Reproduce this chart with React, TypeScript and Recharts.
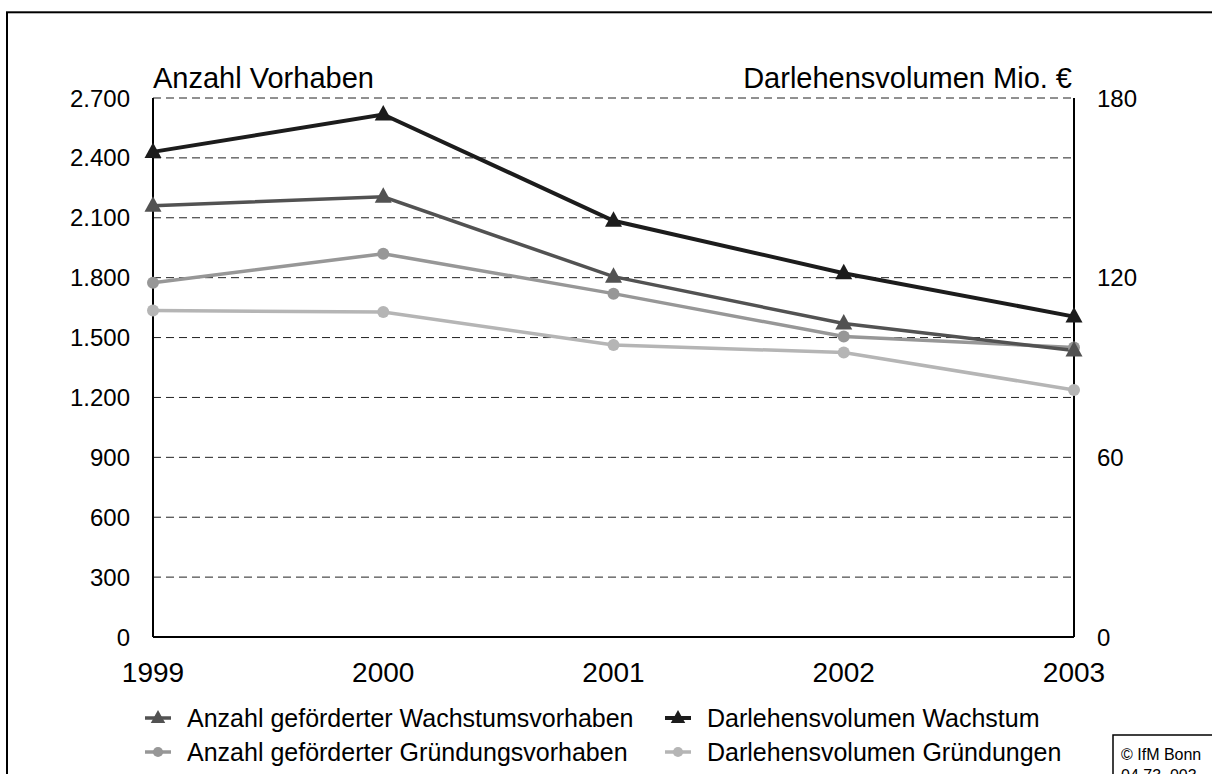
import React from "react";
import { CartesianGrid, Line, LineChart, XAxis, YAxis } from "recharts";

const YEARS = ["1999", "2000", "2001", "2002", "2003"];
const ANZAHL_WACHSTUM = [2160, 2205, 1805, 1570, 1435];
const ANZAHL_GRUENDUNG = [1775, 1920, 1720, 1505, 1450];
const VOLUMEN_WACHSTUM = [162, 174.5, 139, 121.5, 107];
const VOLUMEN_GRUENDUNG = [109, 108.5, 97.5, 95, 82.5];

const LEFT_TICKS = [0, 300, 600, 900, 1200, 1500, 1800, 2100, 2400, 2700];
const RIGHT_TICKS = [0, 60, 120, 180];

const FONT = '"Liberation Sans", Arial, Helvetica, sans-serif';

type Shape = "triangle" | "circle";

type SeriesDef = {
  key: string;
  name: string;
  color: string;
  width: number;
  shape: Shape;
  axis: "left" | "right";
};

// drawing order: last one ends up on top
const SERIES: SeriesDef[] = [
  { key: "volG", name: "Darlehensvolumen Gründungen", color: "#b5b5b5", width: 3.5, shape: "circle", axis: "right" },
  { key: "anzG", name: "Anzahl geförderter Gründungsvorhaben", color: "#979797", width: 3.5, shape: "circle", axis: "left" },
  { key: "anzW", name: "Anzahl geförderter Wachstumsvorhaben", color: "#525252", width: 3.5, shape: "triangle", axis: "left" },
  { key: "volW", name: "Darlehensvolumen Wachstum", color: "#1c1c1c", width: 4, shape: "triangle", axis: "right" },
];

// legend grid, row by row
const LEGEND_ROWS = [
  ["anzW", "volW"],
  ["anzG", "volG"],
];

const data = YEARS.map((year, i) => ({
  year,
  anzW: ANZAHL_WACHSTUM[i],
  anzG: ANZAHL_GRUENDUNG[i],
  volW: VOLUMEN_WACHSTUM[i],
  volG: VOLUMEN_GRUENDUNG[i],
}));

function formatThousands(value: number) {
  return String(value).replace(/\B(?=(\d{3})+(?!\d))/g, ".");
}

function Marker({ shape, cx, cy, color, size = 1 }: { shape: Shape; cx: number; cy: number; color: string; size?: number }) {
  if (shape === "triangle") {
    const h = 8.5 * size;
    return (
      <path
        d={`M${cx},${cy - 9.5 * size} L${cx - h},${cy + 6 * size} L${cx + h},${cy + 6 * size} Z`}
        fill={color}
      />
    );
  }
  return <circle cx={cx} cy={cy} r={6 * size} fill={color} />;
}

function makeDot(series: SeriesDef) {
  return (props: any) => {
    const { cx, cy, index } = props;
    if (cx == null || cy == null) return <g key={`${series.key}-${index}`} />;
    return (
      <g key={`${series.key}-${index}`}>
        <Marker shape={series.shape} cx={cx} cy={cy} color={series.color} />
      </g>
    );
  };
}

export default function App() {
  const legendCols = [158, 678];
  const legendBaselines = [727, 761];

  return (
    <div
      style={{
        position: "absolute",
        left: 0,
        top: 0,
        width: 1212,
        height: 774,
        overflow: "hidden",
        background: "#fff",
        fontFamily: FONT,
      }}
    >
      <LineChart width={1212} height={774} data={data} margin={{ top: 98, right: 0, bottom: 0, left: 0 }}>
        <CartesianGrid yAxisId="left" vertical={false} stroke="#222" strokeDasharray="8 5" strokeWidth={1} />
        <XAxis
          dataKey="year"
          height={137}
          tickLine={false}
          tickSize={0}
          tickMargin={25}
          axisLine={{ stroke: "#000", strokeWidth: 2 }}
          tick={{ fontSize: 28, fill: "#000", fontFamily: FONT }}
        />
        <YAxis
          yAxisId="left"
          width={153}
          domain={[0, 2700]}
          ticks={LEFT_TICKS}
          tickFormatter={formatThousands}
          tickLine={false}
          tickSize={0}
          tickMargin={23}
          axisLine={{ stroke: "#000", strokeWidth: 2 }}
          tick={{ fontSize: 24, fill: "#000", fontFamily: FONT }}
        />
        <YAxis
          yAxisId="right"
          orientation="right"
          width={138}
          domain={[0, 180]}
          ticks={RIGHT_TICKS}
          tickLine={false}
          tickSize={0}
          tickMargin={23}
          axisLine={{ stroke: "#000", strokeWidth: 2 }}
          tick={{ fontSize: 24, fill: "#000", fontFamily: FONT }}
        />
        {SERIES.map((s) => (
          <Line
            key={s.key}
            yAxisId={s.axis}
            dataKey={s.key}
            name={s.name}
            type="linear"
            stroke={s.color}
            strokeWidth={s.width}
            dot={makeDot(s)}
            activeDot={false}
            isAnimationActive={false}
          />
        ))}
      </LineChart>

      <svg
        width={1212}
        height={774}
        style={{ position: "absolute", left: 0, top: 0, pointerEvents: "none" }}
        fontFamily={FONT}
      >
        <rect x={7} y={12.3} width={1400} height={1000} fill="none" stroke="#000" strokeWidth={2} />
        <text x={153} y={88} fontSize={29} fill="#000">
          Anzahl Vorhaben
        </text>
        <text x={1072} y={88} fontSize={29} fill="#000" textAnchor="end">
          Darlehensvolumen Mio. €
        </text>

        {LEGEND_ROWS.map((row, r) =>
          row.map((key, c) => {
            const s = SERIES.find((x) => x.key === key)!;
            const cx = legendCols[c];
            const base = legendBaselines[r];
            const cy = base - 9;
            return (
              <g key={key}>
                <line x1={cx - 13} x2={cx + 13} y1={cy} y2={cy} stroke={s.color} strokeWidth={s.width} />
                <Marker shape={s.shape} cx={cx} cy={cy} color={s.color} size={0.85} />
                <text x={cx + 29} y={base} fontSize={25} fill="#000">
                  {s.name}
                </text>
              </g>
            );
          })
        )}

        <rect x={1113} y={735} width={200} height={100} fill="#fff" stroke="#000" strokeWidth={1.5} />
        <text x={1121} y={760} fontSize={16} fill="#000">
          © IfM Bonn
        </text>
        <text x={1121} y={781} fontSize={16} fill="#000">
          04.73_003
        </text>
      </svg>
    </div>
  );
}
